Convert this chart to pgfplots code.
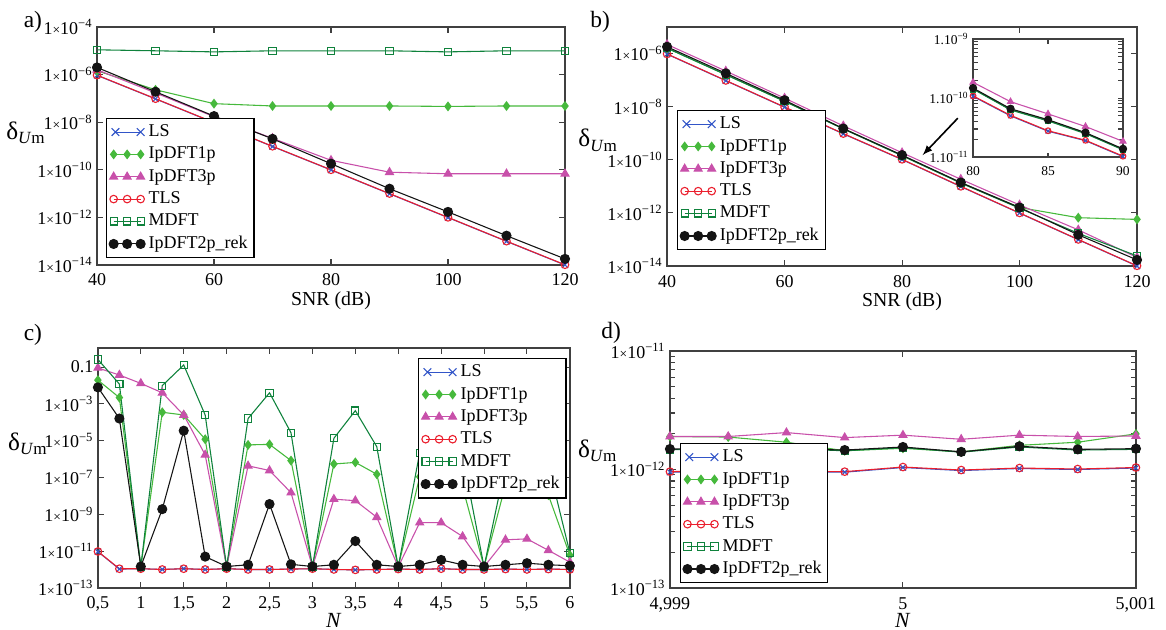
\documentclass[border=0pt]{standalone}
\usepackage{fontspec}
\setmainfont{Liberation Serif}
\usepackage{pgfplots}
\usepackage{pgfplotstable}
\pgfplotsset{compat=1.18}

\definecolor{cLS}{RGB}{50,85,200}
\definecolor{cIpa}{RGB}{70,185,60}
\definecolor{cIpc}{RGB}{200,80,170}
\definecolor{cTLS}{RGB}{235,30,45}
\definecolor{cMD}{RGB}{15,130,60}
\definecolor{cRek}{RGB}{20,20,20}

\newcommand\e[1]{1{\fontsize{7.5}{8}\selectfont ×}10\textsuperscript{−#1}}
\newcommand\dUm{{\fontsize{14}{16}\selectfont δ}\raisebox{-2.5pt}{\fontsize{9.5}{11}\selectfont\textit{U}m}}

% panel c: N from 0.5 to 6
\pgfplotstableread{
N     LS       TLS      Ipa      Ipc      MD       Rek
0.5   9.3e-12  9.5e-12  1.96e-2  9e-2     2.6e-1   7.9e-3
0.75  1.05e-12 1.1e-12  2.2e-3   3.7e-2   1.2e-2   1.6e-4
1     1.1e-12  1.1e-12  1.4e-12  1.3e-2   1.4e-12  1.45e-12
1.25  1e-12    1e-12    3.5e-4   4e-3     9.8e-3   1.9e-9
1.5   1.1e-12  1.1e-12  2.5e-4   2.5e-4   1.3e-1   3.5e-5
1.75  1e-12    1e-12    1.2e-5   1.7e-6   2.5e-4   5e-12
2     1.1e-12  1.1e-12  1.4e-12  1.4e-12  1.4e-12  1.45e-12
2.25  1e-12    1e-12    5.9e-6   4.3e-7   1.6e-4   1.8e-12
2.5   1e-12    1e-12    6.3e-6   2.4e-7   4e-3     3.6e-9
2.75  1.05e-12 1.05e-12 8.3e-7   1.5e-8   2.7e-5   1.9e-12
3     1.1e-12  1.1e-12  1.4e-12  1.4e-12  1.4e-12  1.45e-12
3.25  1e-12    1e-12    5.4e-7   6.6e-9   1.35e-5  1.8e-12
3.5   0.95e-12 0.95e-12 6.6e-7   5.5e-9   4.3e-4   3.5e-11
3.75  1e-12    1e-12    1.5e-7   6.9e-10  4.7e-6   1.8e-12
4     1.05e-12 1.05e-12 1.4e-12  1.4e-12  1.4e-12  1.45e-12
4.25  1e-12    1e-12    1.1e-7   3.5e-10  2.2e-6   1.8e-12
4.5   1.1e-12  1.1e-12  1.2e-7   3.5e-10  6e-5     3.3e-12
4.75  1e-12    1e-12    3e-8     6.2e-11  1.5e-6   1.8e-12
5     1e-12    1e-12    1.4e-12  1.4e-12  1.4e-12  1.45e-12
5.25  1.05e-12 1.05e-12 4e-8     4.1e-11  5e-7     1.8e-12
5.5   1e-12    1e-12    5e-8     4.6e-11  1.5e-5   2.2e-12
5.75  1.05e-12 1.05e-12 1.1e-8   1.1e-11  5e-7     1.8e-12
6     1e-12    1e-12    6e-12    2.5e-12  8e-12    1.6e-12
}\tabc

% panel d: x = (N-5)*1000
\pgfplotstableread{
x     LS       TLS      Ipa      Ipc      MD       Rek
-1    9.5e-13  9.6e-13  1.9e-12  1.9e-12  1.47e-12 1.49e-12
-0.75 9.7e-13  9.8e-13  1.88e-12 1.9e-12  1.48e-12 1.5e-12
-0.5  9.5e-13  9.6e-13  1.7e-12  2.05e-12 1.5e-12  1.5e-12
-0.25 9.5e-13  9.6e-13  1.44e-12 1.86e-12 1.44e-12 1.46e-12
0     1.04e-12 1.05e-12 1.51e-12 1.95e-12 1.53e-12 1.55e-12
0.25  9.8e-13  9.9e-13  1.41e-12 1.8e-12  1.4e-12  1.41e-12
0.5   1.02e-12 1.03e-12 1.6e-12  1.95e-12 1.55e-12 1.57e-12
0.75  1e-12    1.01e-12 1.7e-12  1.9e-12  1.46e-12 1.48e-12
1     1.03e-12 1.04e-12 2e-12    1.92e-12 1.48e-12 1.5e-12
}\tabd

\pgfplotsset{
  every axis/.append style={
    scale only axis, anchor=north west,
    axis line style={line width=0.8pt, draw=black!75},
    tick style={black!75, line width=0.6pt},
    major tick length=3.5pt,
    tick label style={font=\fontsize{10}{12}\selectfont},
    yticklabel style={inner xsep=2.3pt},
    xticklabel style={yshift=-1.5pt},
    legend style={draw=black, line width=0.6pt, fill=white, font=\fontsize{10}{12}\selectfont,
      anchor=north west, inner sep=1.5pt, row sep=0.3pt},
    legend cell align=left,
  },
  /pgf/number format/assume math mode=true,
  legend image code/.code={\draw[#1] plot coordinates {(0pt,0pt) (7.5pt,0pt) (15pt,0pt)};},
  sLS/.style={color=cLS, mark=x, mark size=2.4pt, line width=0.6pt, mark options={solid},
    legend image code/.code={\draw[##1, mark size=3pt] plot coordinates {(1pt,0pt) (15pt,0pt)};}},
  sIpa/.style={color=cIpa, mark=diamond*, mark size=2.3pt, line width=0.6pt, mark options={solid}},
  sIpc/.style={color=cIpc, mark=triangle*, mark size=2.5pt, line width=0.6pt, mark options={solid}},
  sTLS/.style={color=cTLS, mark=o, mark size=2.1pt, line width=0.6pt, mark options={solid}},
  sMD/.style={color=cMD, mark=square, mark size=2pt, line width=0.6pt, mark options={solid}},
  sRek/.style={color=cRek, mark=*, mark size=2.5pt, line width=0.6pt, mark options={solid}},
}

\begin{document}
\begin{tikzpicture}
\useasboundingbox (0,0) rectangle (647.8pt,-350pt);

\node[font=\fontsize{13}{15}\selectfont] at (18.3pt,-12.2pt) {a)};
\node[font=\fontsize{13}{15}\selectfont] at (333.4pt,-12.2pt) {b)};
\node[font=\fontsize{13}{15}\selectfont] at (18.3pt,-186.1pt) {c)};
\node[font=\fontsize{13}{15}\selectfont] at (339.5pt,-185pt) {d)};

% ---- a)
\begin{axis}[ymode=log, at={(53.9pt,-15pt)}, width=260pt, height=132.2pt,
  xmin=40, xmax=120, ymin=1e-14, ymax=1e-4, xtick={40,60,...,120},
  ytick={1e-14,1e-12,1e-10,1e-8,1e-6,1e-4},
  yticklabels={\e{14},\e{12},\e{10},\e{8},\e{6},\e{4}},
  xlabel={SNR (dB)}, ylabel={\dUm},
  every axis x label/.style={at={(axis description cs:0.5,-0.15)}, anchor=center, font=\fontsize{11}{13}\selectfont},
  every axis y label/.style={at={(axis description cs:-0.111,0.555)}, anchor=east, inner sep=0pt},
  legend style={at={(0.019,0.618)}}]
\addplot[sLS] coordinates {(40,9.3e-7)(50,9.5e-8)(60,9.5e-9)(70,9.5e-10)(80,9.8e-11)(90,9.8e-12)(100,9.8e-13)(110,9.8e-14)(120,1e-14)};
\addplot[sIpa] coordinates {(40,1.45e-6)(50,2.3e-7)(60,6e-8)(70,4.8e-8)(80,4.8e-8)(90,4.8e-8)(100,4.6e-8)(110,4.8e-8)(120,4.8e-8)};
\addplot[sIpc] coordinates {(40,1.6e-6)(50,1.7e-7)(60,1.7e-8)(70,2.1e-9)(80,2.5e-10)(90,7.9e-11)(100,6.8e-11)(110,6.8e-11)(120,6.8e-11)};
\addplot[sTLS] coordinates {(40,9.5e-7)(50,9.7e-8)(60,9.7e-9)(70,9.7e-10)(80,1e-10)(90,1e-11)(100,1e-12)(110,1e-13)(120,1.02e-14)};
\addplot[sMD] coordinates {(40,1.1e-5)(50,1e-5)(60,9e-6)(70,1e-5)(80,1e-5)(90,1e-5)(100,9e-6)(110,1e-5)(120,1e-5)};
\addplot[sRek] coordinates {(40,2e-6)(50,1.9e-7)(60,1.8e-8)(70,2e-9)(80,1.8e-10)(90,1.6e-11)(100,1.7e-12)(110,1.7e-13)(120,1.8e-14)};
\legend{LS,IpDFT1p,IpDFT3p,TLS,MDFT,IpDFT2p\_rek}
\end{axis}

% ---- b)
\begin{axis}[ymode=log, at={(370.6pt,-15pt)}, width=261.1pt, height=132.8pt,
  xmin=40, xmax=120, ymin=1e-14, ymax=1e-5, xtick={40,60,...,120},
  ytick={1e-14,1e-12,1e-10,1e-8,1e-6},
  yticklabels={\e{14},\e{12},\e{10},\e{8},\e{6}},
  xlabel={SNR (dB)}, ylabel={\dUm},
  every axis x label/.style={at={(axis description cs:0.5,-0.15)}, anchor=center, font=\fontsize{11}{13}\selectfont},
  every axis y label/.style={at={(axis description cs:-0.106,0.527)}, anchor=east, inner sep=0pt},
  legend style={at={(0.021,0.653)}}]
\addplot[sLS] coordinates {(40,9.5e-7)(50,9.5e-8)(60,9.5e-9)(70,9.5e-10)(80,1.02e-10)(90,9.8e-12)(100,9.8e-13)(110,9.8e-14)(120,1e-14)};
\addplot[sIpa] coordinates {(40,1.6e-6)(50,1.6e-7)(60,1.6e-8)(70,1.5e-9)(80,1.45e-10)(90,1.35e-11)(100,1.6e-12)(110,6.6e-13)(120,5.7e-13)};
\addplot[sIpc] coordinates {(40,2.2e-6)(50,2.2e-7)(60,2.1e-8)(70,1.9e-9)(80,1.85e-10)(90,1.85e-11)(100,2e-12)(110,2.3e-13)(120,2.1e-14)};
\addplot[sTLS] coordinates {(40,9.7e-7)(50,9.7e-8)(60,9.7e-9)(70,9.7e-10)(80,1.04e-10)(90,1e-11)(100,1e-12)(110,1e-13)(120,1.02e-14)};
\addplot[sMD] coordinates {(40,1.6e-6)(50,1.6e-7)(60,1.6e-8)(70,1.45e-9)(80,1.42e-10)(90,1.33e-11)(100,1.5e-12)(110,1.7e-13)(120,2.4e-14)};
\addplot[sRek] coordinates {(40,1.8e-6)(50,1.8e-7)(60,1.75e-8)(70,1.5e-9)(80,1.5e-10)(90,1.4e-11)(100,1.6e-12)(110,1.5e-13)(120,1.7e-14)};
\legend{LS,IpDFT1p,IpDFT3p,TLS,MDFT,IpDFT2p\_rek}
\draw[-latex, line width=0.9pt] (axis cs:89.5,3.7e-9) -- (axis cs:83.5,1.5e-10);
\end{axis}

% ---- inset in b)
\begin{axis}[ymode=log, at={(540.6pt,-21.7pt)}, width=83.3pt, height=65.6pt,
  axis background/.style={fill=white},
  major tick length=2.5pt,
  tick label style={font=\fontsize{7.5}{9}\selectfont},
  xticklabel style={yshift=0pt},
  xmin=80, xmax=90, ymin=1e-11, ymax=1e-9, xtick={80,85,90},
  ytick={1e-11,1e-10,1e-9},
  yticklabels={1.10\textsuperscript{−11},1.10\textsuperscript{−10},1.10\textsuperscript{−9}}]
\addplot[sLS, mark size=1.8pt] coordinates {(80,1.07e-10)(82.5,5e-11)(85,2.75e-11)(87.5,1.9e-11)(90,1.02e-11)};
\addplot[sIpa, mark size=1.7pt] coordinates {(80,1.45e-10)(82.5,6.4e-11)(85,4.2e-11)(87.5,2.55e-11)(90,1.35e-11)};
\addplot[sIpc, mark size=1.9pt] coordinates {(80,1.85e-10)(82.5,8.7e-11)(85,5.4e-11)(87.5,3.3e-11)(90,1.85e-11)};
\addplot[sTLS, mark size=1.6pt] coordinates {(80,1.09e-10)(82.5,5.1e-11)(85,2.8e-11)(87.5,1.93e-11)(90,1.04e-11)};
\addplot[sMD, mark size=1.6pt] coordinates {(80,1.42e-10)(82.5,6.3e-11)(85,4.1e-11)(87.5,2.5e-11)(90,1.33e-11)};
\addplot[sRek, mark size=2pt] coordinates {(80,1.48e-10)(82.5,6.6e-11)(85,4.3e-11)(87.5,2.6e-11)(90,1.38e-11)};
\end{axis}

% ---- c)
\begin{axis}[ymode=log, at={(54.4pt,-193.3pt)}, width=262.2pt, height=133.3pt,
  xmin=0.5, xmax=6, ymin=1e-13, ymax=1.1,
  xtick={0.5,1,...,6},
  xticklabels={{0,5},1,{1,5},2,{2,5},3,{3,5},4,{4,5},5,{5,5},6},
  ytick={1e-13,1e-11,1e-9,1e-7,1e-5,1e-3,1e-1},
  yticklabels={\e{13},\e{11},\e{9},\e{7},\e{5},\e{3},0.1},
  xlabel={\textit{N}}, ylabel={\dUm},
  every axis x label/.style={at={(axis description cs:0.5,-0.137)}, anchor=center, inner sep=1pt, font=\fontsize{12}{14}\selectfont},
  every axis y label/.style={at={(axis description cs:-0.108,0.60)}, anchor=east, inner sep=0pt},
  legend style={at={(0.678,0.958)}}]
\addplot[sLS] table[x=N, y=LS] {\tabc};
\addplot[sIpa] table[x=N, y=Ipa] {\tabc};
\addplot[sIpc] table[x=N, y=Ipc] {\tabc};
\addplot[sTLS] table[x=N, y=TLS] {\tabc};
\addplot[sMD] table[x=N, y=MD] {\tabc};
\addplot[sRek] table[x=N, y=Rek] {\tabc};
\legend{LS,IpDFT1p,IpDFT3p,TLS,MDFT,IpDFT2p\_rek}
\end{axis}

% ---- d)
\begin{axis}[ymode=log, at={(372.2pt,-195pt)}, width=258.9pt, height=131.7pt,
  xmin=-1, xmax=1, ymin=1e-13, ymax=1e-11,
  xtick={-1,0,1}, xticklabels={{4,999},5,{5,001}},
  xticklabel style={yshift=-0.5pt},
  ytick={1e-13,1e-12,1e-11},
  yticklabels={\e{13},\e{12},\e{11}},
  xlabel={\textit{N}}, ylabel={\dUm},
  every axis x label/.style={at={(axis description cs:0.5,-0.137)}, anchor=center, inner sep=1pt, font=\fontsize{12}{14}\selectfont},
  every axis y label/.style={at={(axis description cs:-0.114,0.58)}, anchor=east, inner sep=0pt},
  legend style={at={(0.021,0.612)}}]
\addplot[sLS] table[x=x, y=LS] {\tabd};
\addplot[sIpa] table[x=x, y=Ipa] {\tabd};
\addplot[sIpc] table[x=x, y=Ipc] {\tabd};
\addplot[sTLS] table[x=x, y=TLS] {\tabd};
\addplot[sMD] table[x=x, y=MD] {\tabd};
\addplot[sRek] table[x=x, y=Rek] {\tabd};
\legend{LS,IpDFT1p,IpDFT3p,TLS,MDFT,IpDFT2p\_rek}
\end{axis}
\end{tikzpicture}
\end{document}
